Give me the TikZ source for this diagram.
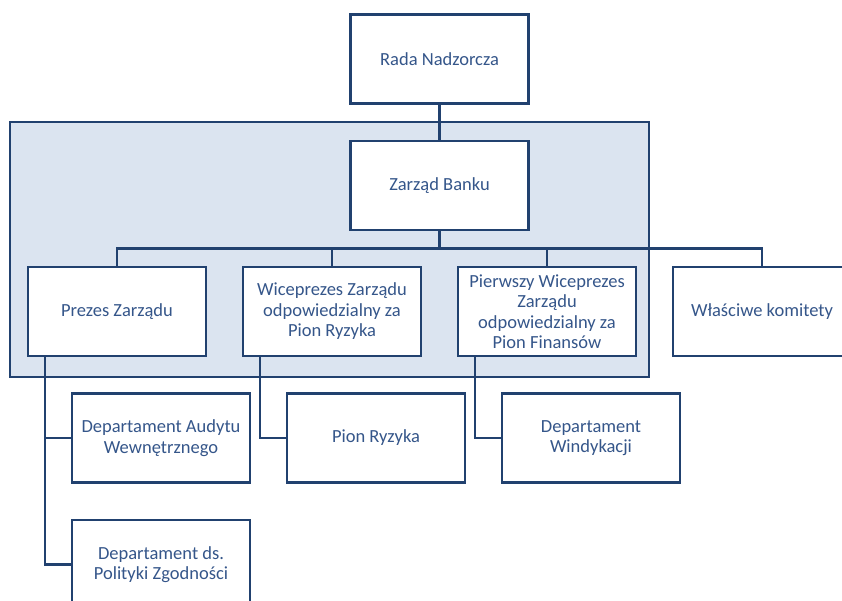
\documentclass[tikz,border=0pt]{standalone}
\usepackage{fontspec}
\setmainfont{Carlito}
\usepackage{xcolor}
\usepackage{tikz}
\usetikzlibrary{calc,positioning}
\definecolor{BankNavy}{HTML}{21416F}
\definecolor{BankInk}{HTML}{35568A}
\definecolor{BankMist}{HTML}{DBE4F0}

\begin{document}
\begin{tikzpicture}[
  x=1pt,y=-1pt,
  unit/.style={draw=BankNavy,line width=2.4pt,fill=white,minimum width=178pt,minimum height=89pt,align=center,text=BankInk,font=\fontsize{18.5}{20.5}\selectfont,inner sep=2pt},
  conn/.style={draw=BankNavy,line width=2.4pt},
  zone/.style={draw=BankNavy,line width=2.4pt,fill=BankMist}
]
\useasboundingbox (0,0) rectangle (842,601);
\clip (0,0) rectangle (842,601);

% obszar zarzadu
\draw[zone] (10,122) rectangle (649,377);

\node[unit] (rada) at (439.5,59) {Rada Nadzorcza};
\node[unit] (zarzad) at (439.5,185.5) {Zarząd Banku};
\node[unit] (prezes) at (117,311.5) {Prezes Zarządu};
\node[unit] (wice) at (332,311.5) {Wiceprezes Zarządu\\odpowiedzialny za\\Pion Ryzyka};
\node[unit] (pierwszy) at (547,311.5) {Pierwszy Wiceprezes\\Zarządu\\odpowiedzialny za\\Pion Finansów};
\node[unit] (komitety) at (762,311.5) {Właściwe komitety};
\node[unit] (audyt) at (161,438) {Departament Audytu\\Wewnętrznego};
\node[unit] (ryzyko) at (376,438) {Pion Ryzyka};
\node[unit] (windyk) at (591,438) {Departament\\Windykacji};
\node[unit] (zgodnosc) at (161,564.5) {Departament ds.\\Polityki Zgodności};

\coordinate (bus) at (439.5,248.7);

\draw[conn] (rada) -- (zarzad);
\draw[conn] (zarzad) -- (bus);
\draw[conn] (prezes.north) |- (bus) -| (komitety.north);
\draw[conn] (wice.north) -- (wice.north |- bus);
\draw[conn] (pierwszy.north) -- (pierwszy.north |- bus);

\draw[conn] ([xshift=18pt]prezes.south west) |- (audyt.west);
\draw[conn] ([xshift=18pt]prezes.south west) |- (zgodnosc.west);
\draw[conn] ([xshift=18pt]wice.south west) |- (ryzyko.west);
\draw[conn] ([xshift=18pt]pierwszy.south west) |- (windyk.west);
\end{tikzpicture}
\end{document}
